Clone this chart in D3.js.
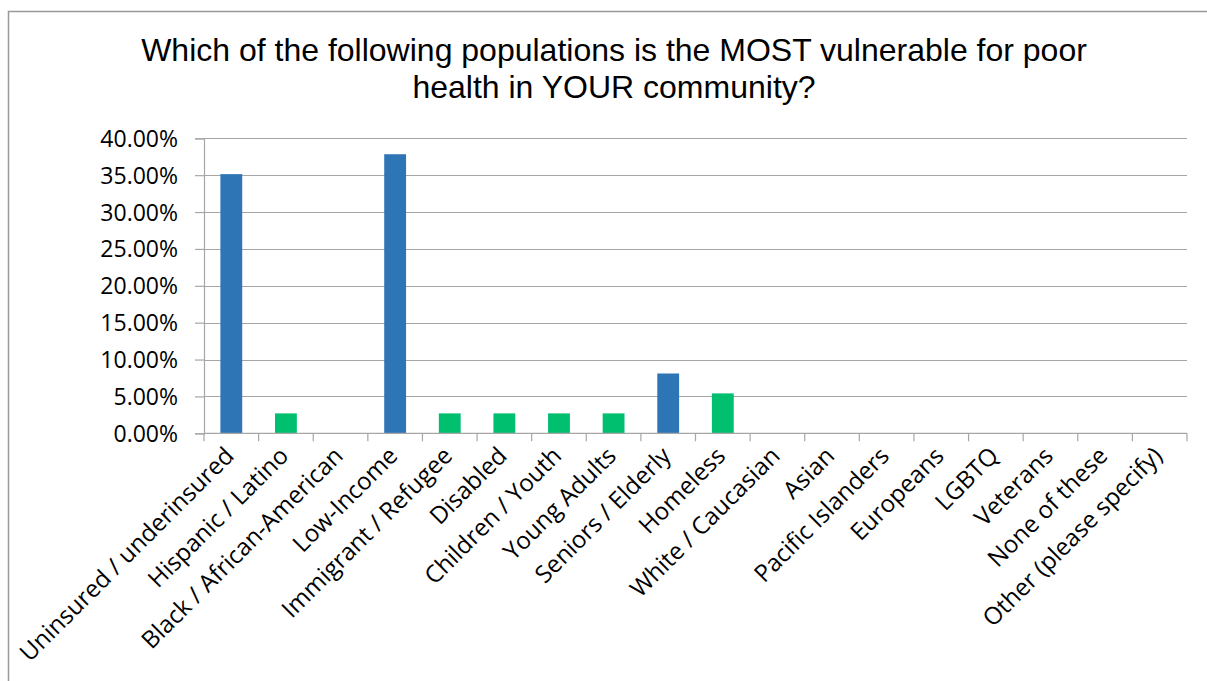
<!DOCTYPE html>
<html><head><meta charset="utf-8">
<script src="https://cdn.jsdelivr.net/npm/d3@7"></script>
<style>body{margin:0;background:#fff;} svg{display:block;}</style>
</head><body>
<svg id="c" width="1207" height="681"></svg>
<script>
const categories = ["Uninsured / underinsured","Hispanic / Latino","Black / African-American","Low-Income","Immigrant / Refugee","Disabled","Children / Youth","Young Adults","Seniors / Elderly","Homeless","White / Caucasian","Asian","Pacific Islanders","Europeans","LGBTQ","Veterans","None of these","Other (please specify)"];
const values = [0.3514,0.0270,0,0.3784,0.0270,0.0270,0.0270,0.0270,0.0811,0.0541,0,0,0,0,0,0,0,0];
const barColors = ["#2E75B6","#00BF6F","#00BF6F","#2E75B6","#00BF6F","#00BF6F","#00BF6F","#00BF6F","#2E75B6","#00BF6F","#00BF6F","#00BF6F","#00BF6F","#00BF6F","#00BF6F","#00BF6F","#00BF6F","#00BF6F"];
const yTicks = [0,0.05,0.10,0.15,0.20,0.25,0.30,0.35,0.40];
const titleLines = ["Which of the following populations is the MOST vulnerable for poor","health in YOUR community?"];

const svg = d3.select("#c");
const L = 204, R = 1187, T = 138.3, B = 433.3;
const x = d3.scaleBand().domain(categories).range([L, R]).paddingInner(0.6).paddingOuter(0.3);
const y = d3.scaleLinear().domain([0, 0.40]).range([B, T]);
const grid = "#A6A6A6";
const lab = "'Open Sans', sans-serif";

// outer border
svg.append("rect").attr("x", 8.5).attr("y", 11.5).attr("width", 1220).attr("height", 700)
  .attr("fill", "none").attr("stroke", "#999").attr("stroke-width", 1.5);

// title
svg.append("g").selectAll("text").data(titleLines).join("text")
  .attr("x", 614).attr("y", (d, i) => 61 + i * 37)
  .attr("text-anchor", "middle").attr("font-family", "'Liberation Sans', Arial, sans-serif")
  .attr("font-size", 32).attr("fill", "#000").text(d => d);

// gridlines
svg.append("g").selectAll("line").data(yTicks.slice(1)).join("line")
  .attr("x1", L).attr("x2", R).attr("y1", d => Math.round(y(d)) + 0.5).attr("y2", d => Math.round(y(d)) + 0.5)
  .attr("stroke", grid).attr("stroke-width", 1.2);

// bars
svg.append("g").selectAll("rect").data(values).join("rect")
  .attr("x", (d, i) => x(categories[i])).attr("width", x.bandwidth())
  .attr("y", d => y(d)).attr("height", d => B - y(d))
  .attr("fill", (d, i) => barColors[i]);

// y axis
const ya = svg.append("g").attr("transform", `translate(${L},0)`)
  .call(d3.axisLeft(y).tickValues(yTicks).tickFormat(d3.format(".2%")).tickSize(9).tickPadding(17));
ya.select(".domain").attr("stroke", grid).attr("stroke-width", 1.2);
ya.selectAll(".tick line").attr("stroke", grid).attr("stroke-width", 1.2);
ya.selectAll(".tick text").attr("font-family", lab).attr("font-size", 23).attr("fill", "#000").attr("dy", "0.35em");

// x axis
const step = x.step();
const xa = svg.append("g").attr("transform", `translate(0,${B})`);
xa.append("line").attr("x1", L).attr("x2", R).attr("y1", 0).attr("y2", 0).attr("stroke", grid).attr("stroke-width", 1.2);
const tickPos = d3.range(categories.length + 1).map(i => L + i * step);
xa.selectAll(".tk").data(tickPos).join("line").attr("class", "tk")
  .attr("x1", d => d).attr("x2", d => d).attr("y1", 0).attr("y2", 8)
  .attr("stroke", grid).attr("stroke-width", 1.2);
xa.selectAll(".lb").data(categories).join("text").attr("class", "lb")
  .attr("transform", d => `translate(${x(d) + x.bandwidth() / 2 + 4},${24}) rotate(-45)`)
  .attr("text-anchor", "end").attr("font-family", lab).attr("font-size", 24).attr("fill", "#000")
  .text(d => d);
</script>
</body></html>
